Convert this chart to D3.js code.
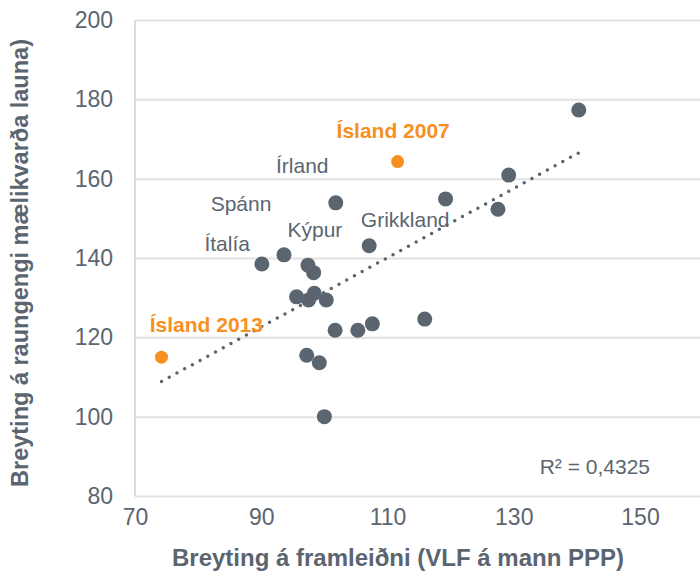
<!DOCTYPE html>
<html>
<head>
<meta charset="utf-8">
<script src="https://cdn.jsdelivr.net/npm/d3@7"></script>
<style>
  body { margin: 0; background: #fff; }
  svg { font-family: "Liberation Sans", Arial, sans-serif; }
  .tick text { fill: #5b6570; }
  .axis-label { fill: #5b6570; font-weight: bold; }
  .country { fill: #5b6570; font-size: 21px; }
  .iceland { fill: #f7901e; font-size: 21px; font-weight: bold; }
</style>
</head>
<body>
<svg width="700" height="574"></svg>
<script>
const svg = d3.select('svg');

// gray points (other countries)
const otherX = [140.3, 129.2, 119.2, 127.5, 101.8, 107.1, 90.1, 93.6, 97.4, 98.3, 95.6,
                98.4, 97.5, 100.3, 101.7, 105.3, 107.6, 115.9, 97.2, 99.2, 100.0];
const otherY = [177.3, 160.9, 154.9, 152.3, 153.9, 143.1, 138.5, 140.8, 138.2, 136.3, 130.2,
                131.1, 129.4, 129.4, 121.8, 121.8, 123.4, 124.6, 115.5, 113.6, 100.0];

// Iceland points (2007, 2013)
const icelandX = [111.6, 74.2];
const icelandY = [164.3, 115.0];

const xTicks = [70, 90, 110, 130, 150];
const yTicks = [80, 100, 120, 140, 160, 180, 200];

// labels in data coordinates
const countryLabels = ['Írland', 'Spánn', 'Ítalía', 'Kýpur', 'Grikkland'];
const countryLabelX = [96.5, 86.8, 84.6, 98.5, 112.8];
const countryLabelY = [161.5, 151.9, 141.8, 145.4, 147.9];
const icelandLabels = ['Ísland 2007', 'Ísland 2013'];
const icelandLabelX = [110.9, 81.3];
const icelandLabelY = [170.2, 121.4];

const rSquared = 'R² = 0,4325';

const xScale = d3.scaleLinear().domain([70, 150]).range([135, 640]);
const yScale = d3.scaleLinear().domain([80, 200]).range([496, 20]);

const g = svg.append('g');

// gridlines
g.append('g').call(d3.axisLeft(yScale).tickValues(yTicks).tickSize(-(700 - 135)).tickFormat(''))
  .attr('transform', 'translate(135,0)')
  .call(a => a.select('.domain').remove())
  .selectAll('.tick line').attr('stroke', '#e2e2e2').attr('stroke-width', 2);

// left axis line
g.append('line')
  .attr('x1', 135).attr('x2', 135)
  .attr('y1', yScale(200)).attr('y2', yScale(80))
  .attr('stroke', '#d9dbe0').attr('stroke-width', 2);

// y tick labels
const yAxisG = g.append('g').attr('transform', 'translate(135,0)')
  .call(d3.axisLeft(yScale).tickValues(yTicks).tickSize(0).tickPadding(22));
yAxisG.select('.domain').remove();
yAxisG.selectAll('text').attr('font-size', 23).attr('font-family', null);

// x tick labels
const xAxisG = g.append('g').attr('transform', `translate(0,${yScale(80)})`)
  .call(d3.axisBottom(xScale).tickValues(xTicks).tickSize(0).tickPadding(13));
xAxisG.select('.domain').remove();
xAxisG.selectAll('text').attr('font-size', 23).attr('font-family', null);

// axis titles
g.append('text').attr('class', 'axis-label')
  .attr('x', 398).attr('y', 566)
  .attr('font-size', 24)
  .attr('text-anchor', 'middle')
  .text('Breyting á framleiðni (VLF á mann PPP)');

g.append('text').attr('class', 'axis-label')
  .attr('transform', 'translate(28,263) rotate(-90)')
  .attr('font-size', 23.5)
  .attr('text-anchor', 'middle')
  .text('Breyting á raungengi mælikvarða launa)');

// trend line (least squares over all points)
const allX = otherX.concat(icelandX);
const allY = otherY.concat(icelandY);
const mx = d3.mean(allX), my = d3.mean(allY);
const slope = d3.sum(allX, (x, i) => (x - mx) * (allY[i] - my)) / d3.sum(allX, x => (x - mx) ** 2);
const intercept = my - slope * mx;
const [xMin, xMax] = d3.extent(allX);

g.append('line')
  .attr('x1', xScale(xMin)).attr('y1', yScale(intercept + slope * xMin))
  .attr('x2', xScale(xMax)).attr('y2', yScale(intercept + slope * xMax))
  .attr('stroke', '#5b6570').attr('stroke-width', 3.5)
  .attr('stroke-linecap', 'round').attr('stroke-dasharray', '0 8.8');

// points
g.selectAll('circle.other').data(otherX).enter().append('circle')
  .attr('class', 'other')
  .attr('cx', d => xScale(d))
  .attr('cy', (d, i) => yScale(otherY[i]))
  .attr('r', 7.5)
  .attr('fill', '#5b6570');

g.selectAll('circle.ice').data(icelandX).enter().append('circle')
  .attr('class', 'ice')
  .attr('cx', d => xScale(d))
  .attr('cy', (d, i) => yScale(icelandY[i]))
  .attr('r', 6.5)
  .attr('fill', '#f7901e');

// labels
g.selectAll('text.country').data(countryLabels).enter().append('text')
  .attr('class', 'country')
  .attr('x', (d, i) => xScale(countryLabelX[i]))
  .attr('y', (d, i) => yScale(countryLabelY[i]))
  .attr('text-anchor', 'middle')
  .text(d => d);

g.selectAll('text.iceland').data(icelandLabels).enter().append('text')
  .attr('class', 'iceland')
  .attr('x', (d, i) => xScale(icelandLabelX[i]))
  .attr('y', (d, i) => yScale(icelandLabelY[i]))
  .attr('text-anchor', 'middle')
  .text(d => d);

g.append('text')
  .attr('x', 650).attr('y', 474)
  .attr('text-anchor', 'end')
  .attr('fill', '#5b6570')
  .attr('font-size', 21)
  .text(rSquared);
</script>
</body>
</html>
